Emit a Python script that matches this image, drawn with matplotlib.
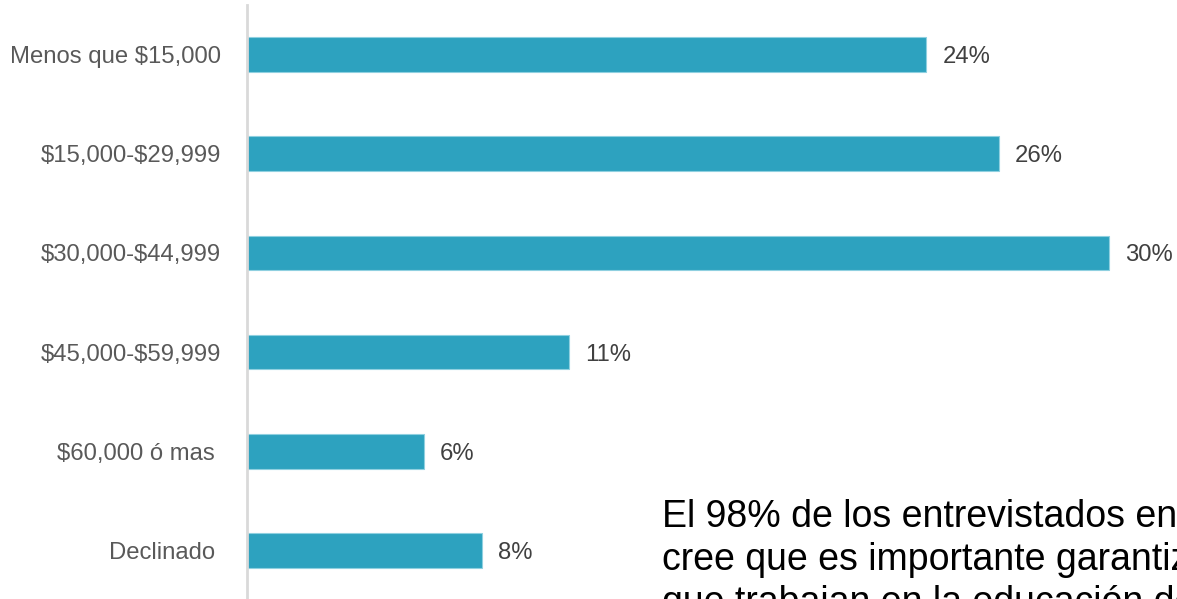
import matplotlib.pyplot as plt

categories = ["Menos que $15,000", "$15,000-$29,999", "$30,000-$44,999",
              "$45,000-$59,999", "$60,000 ó mas ", "Declinado "]
values = [23.4, 25.9, 29.7, 11.1, 6.1, 8.1]
value_labels = ["24%", "26%", "30%", "11%", "6%", "8%"]
note_lines = ["El 98% de los entrevistados en California",
              "cree que es importante garantizar que los",
              "que trabajan en la educación de los niños"]

plt.rcParams['font.family'] = ['Liberation Sans', 'DejaVu Sans']
plt.rcParams['text.parse_math'] = False

W, H = 1177, 599
fig = plt.figure(figsize=(W / 100, H / 100), dpi=100)
ax = fig.add_axes([247 / W, -1 / H, 1 - 247 / W, 595 / H])

ypos = list(range(len(categories)))
ax.barh(ypos, values, height=0.35, color='#2da2bf', edgecolor='#8fd0e0', linewidth=0.8)

for y, v, lab in zip(ypos, values, value_labels):
    ax.text(v + 0.55, y, lab, va='center_baseline', ha='left', fontsize=17.2, color='#404040')

ax.set_ylim(5.5, -0.5)
ax.set_xlim(0, 32.03)
ax.set_yticks(ypos)
ax.set_yticklabels(categories, fontsize=17.2, color='#595959')
for t in ax.get_yticklabels():
    t.set_va('center_baseline')
ax.tick_params(axis='y', length=0, pad=18.5)
ax.set_xticks([])

for s in ['top', 'right', 'bottom']:
    ax.spines[s].set_visible(False)
ax.spines['left'].set_color('#d9d9d9')
ax.spines['left'].set_linewidth(2)

for i, line in enumerate(note_lines):
    fig.text(662 / W, 1 - (527 + 43 * i) / H, line, fontsize=27,
             color='#000000', ha='left', va='baseline')

fig.savefig('out.png', dpi=100)
